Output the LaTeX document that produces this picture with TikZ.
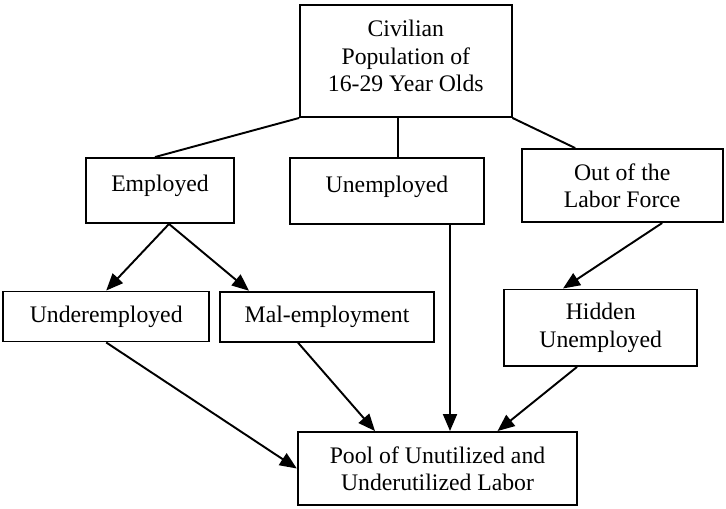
\documentclass[tikz,border=0pt]{standalone}
\usepackage{fontspec}
\setmainfont{Liberation Serif}
\usetikzlibrary{positioning,arrows.meta,calc}
\tikzset{
  box/.style={rectangle, draw=black, line width=1.1pt, align=center, inner sep=0pt,
    font=\fontsize{13.5}{15.6}\selectfont},
  link/.style={line width=1.1pt},
  arr/.style={line width=1.1pt, -{Triangle[length=3.4mm, width=2.8mm]}},
}
\begin{document}
\begin{tikzpicture}[x=0.02cm, y=-0.02cm]
\useasboundingbox (0,0) rectangle (726,508);
% boxes
\node[box, minimum width=4.23cm, minimum height=2.24cm, text depth=0.2cm] (civ) at (405.8,61) {Civilian\\Population of\\16-29 Year Olds};
\node[box, minimum width=2.96cm, minimum height=1.30cm, text depth=0.28cm] (emp) at (160,190.5) {Employed};
\node[box, minimum width=3.88cm, minimum height=1.32cm, text depth=0.28cm] (une) at (387,191) {Unemployed};
\node[box, minimum width=4.02cm, minimum height=1.46cm] (out) at (622.2,185.5) {Out of the\\Labor Force};
\node[box, minimum width=4.13cm, minimum height=1.0cm] (under) at (106.2,316.5) {Underemployed};
\node[box, minimum width=4.28cm, minimum height=1.0cm] (mal) at (327,316.7) {Mal-employment};
\node[box, minimum width=3.87cm, minimum height=1.53cm] (hid) at (600.7,327.7) {Hidden\\Unemployed};
\node[box, minimum width=5.59cm, minimum height=1.46cm] (pool) at (437.5,468.5) {Pool of Unutilized and\\Underutilized Labor};
% lines from the top box
\draw[link] (civ.south west) -- ($(emp.north)+(-5,0)$);
\coordinate (uneIn) at ($(une.north)+(10.7,0)$);
\draw[link] (civ.south -| uneIn) -- (uneIn);
\draw[link] (civ.south east) -- ($(out.north)+(-47,0)$);
% arrows
\draw[arr] ($(emp.south)+(9,0)$) -- (under.north);
\draw[arr] ($(emp.south)+(9,0)$) -- ($(mal.north)+(-78,0)$);
\coordinate (uneOut) at ($(une.south)+(63,0)$);
\draw[arr] (uneOut) -- (uneOut |- pool.north);
\draw[arr] ($(out.south)+(40,0)$) -- ($(hid.north)+(-37.7,0)$);
\draw[arr] (under.south) -- (pool.west);
\draw[arr] ($(mal.south)+(-29,0)$) -- ($(pool.north)+(-62.5,0)$);
\draw[arr] ($(hid.south)+(-23.7,0)$) -- ($(pool.north)+(60,0)$);
\end{tikzpicture}
\end{document}
